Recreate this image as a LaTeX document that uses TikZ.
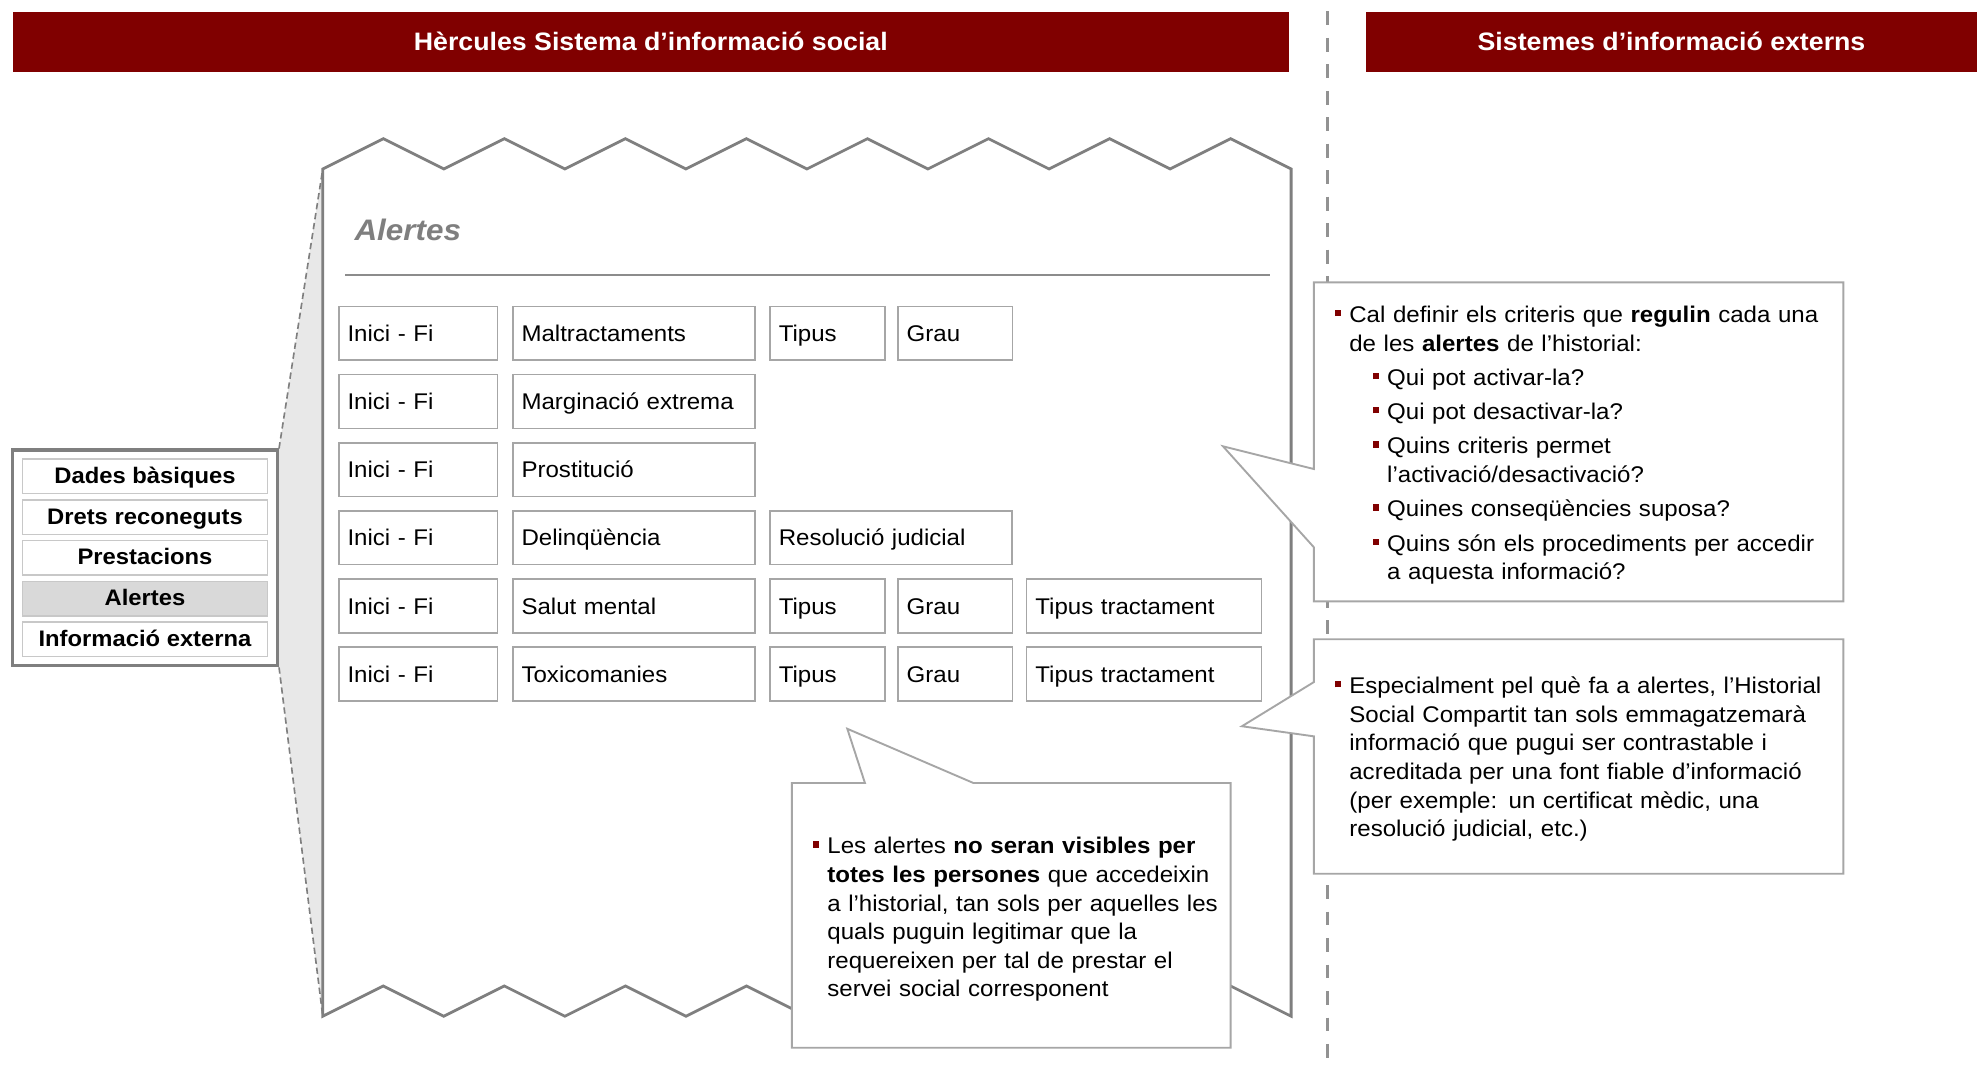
\documentclass[tikz,border=0pt]{standalone}
\usepackage{fontspec}
\setmainfont{Liberation Sans}[FakeStretch=1.06]

\definecolor{hred}{RGB}{128,0,0}
\definecolor{papergray}{RGB}{127,127,127}
\definecolor{cellgray}{RGB}{166,166,166}
\definecolor{itemgray}{RGB}{200,200,200}
\definecolor{selgray}{RGB}{217,217,217}
\definecolor{funnelgray}{RGB}{232,232,232}

\newcommand{\blt}{\llap{\textcolor{hred}{\rule[5pt]{5pt}{5pt}}\hspace{6.5pt}}}

\tikzset{
    hbar/.style={fill=hred, text=white, anchor=north west, minimum height=48pt,
        inner sep=0pt, font=\fontsize{20}{24}\selectfont\bfseries},
    sepline/.style={draw=papergray!85, line width=2.5pt, dash pattern=on 11pt off 10pt},
    paper/.style={draw=papergray, fill=white, line width=2.2pt},
    funnelfill/.style={fill=funnelgray},
    funnelline/.style={draw=papergray, line width=1.3pt, dash pattern=on 5pt off 3pt},
    menubox/.style={draw=papergray, fill=white, line width=2.6pt,
        minimum width=210pt, minimum height=171pt},
    menuitem/.style={draw=itemgray, fill=white, line width=1.2pt, inner sep=0pt,
        minimum width=194pt, minimum height=27.3pt, text height=14pt, text depth=3pt,
        font=\fontsize{17.8}{21}\selectfont\bfseries},
    titol/.style={text=papergray, inner sep=0pt,
        font=\fontsize{23.5}{28}\selectfont\bfseries\itshape},
    rulegray/.style={draw=papergray!90, line width=1.5pt},
    cell/.style={draw=cellgray, line width=1.3pt, anchor=north west, align=left,
        minimum height=42.6pt, inner xsep=7pt, inner ysep=0pt,
        text height=15pt, text depth=2pt,
        font=\fontsize{18}{22.7}\selectfont},
    datecell/.style={cell, text width=112pt},
    widecell/.style={cell, text width=178pt},
    smallcell/.style={cell, text width=77pt},
    treatcell/.style={cell, text width=172.5pt},
    callout/.style={draw=cellgray, fill=white, line width=1.5pt, line join=miter},
    nota/.style={anchor=north west, inner sep=0pt, align=left, text width=400pt,
        font=\fontsize{18}{22.7}\selectfont}
}

\begin{document}
\begin{tikzpicture}[x=1pt, y=-1pt]
    \useasboundingbox (0,0) rectangle (1568,853);

    \node[hbar, minimum width=1012pt] (hsis) at (10,9) {Hèrcules Sistema d’informació social};
    \node[hbar, minimum width=485pt] (hext) at (1083,9) {Sistemes d’informació externs};

    \coordinate (septop) at (1053,9);
    \coordinate (sepbot) at (1053,843);
    \draw[sepline] (septop) -- (sepbot);

    \node[menubox] (menu) at (115,442.5) {};
    \coordinate (ptl) at (256,134);
    \coordinate (pbl) at (256,806);
    \fill[funnelfill] (menu.north east) -- (ptl) -- (pbl) -- (menu.south east) -- cycle;
    \draw[funnelline] (menu.north east) -- (ptl);
    \draw[funnelline] (menu.south east) -- (pbl);

    \filldraw[paper] (ptl) \foreach \k in {1,...,8} { -- ++(48,-24) -- ++(48,24) }
        -- (1024,806) \foreach \k in {1,...,8} { -- ++(-48,-24) -- ++(-48,24) } -- cycle;

    \node[menuitem] (dades) at (115,377.8) {Dades bàsiques};
    \node[menuitem] (drets) at (115,410.2) {Drets reconeguts};
    \node[menuitem] (prest) at (115,442.4) {Prestacions};
    \node[menuitem, fill=selgray] (alert) at (115,474.8) {Alertes};
    \node[menuitem] (infext) at (115,507) {Informació externa};

    \node[titol, anchor=base west] (titol) at (281,191) {Alertes};
    \coordinate (rulea) at (274,218);
    \coordinate (ruleb) at (1007,218);
    \draw[rulegray] (rulea) -- (ruleb);

    \node[datecell] (i1) at (268,242.5) {Inici - Fi};
    \node[widecell] (a1) at (406,242.5) {Maltractaments};
    \node[smallcell] (t1) at (610,242.5) {Tipus};
    \node[smallcell] (g1) at (711.5,242.5) {Grau};

    \node[datecell] (i2) at (268,296.5) {Inici - Fi};
    \node[widecell] (a2) at (406,296.5) {Marginació extrema};

    \node[datecell] (i3) at (268,350.5) {Inici - Fi};
    \node[widecell] (a3) at (406,350.5) {Prostitució};

    \node[datecell] (i4) at (268,404.5) {Inici - Fi};
    \node[widecell] (a4) at (406,404.5) {Delinqüència};
    \node[widecell] (r4) at (610,404.5) {Resolució judicial};

    \node[datecell] (i5) at (268,458.6) {Inici - Fi};
    \node[widecell] (a5) at (406,458.6) {Salut mental};
    \node[smallcell] (t5) at (610,458.6) {Tipus};
    \node[smallcell] (g5) at (711.5,458.6) {Grau};
    \node[treatcell] (tt5) at (813.5,458.6) {Tipus tractament};

    \node[datecell] (i6) at (268,512.6) {Inici - Fi};
    \node[widecell] (a6) at (406,512.6) {Toxicomanies};
    \node[smallcell] (t6) at (610,512.6) {Tipus};
    \node[smallcell] (g6) at (711.5,512.6) {Grau};
    \node[treatcell] (tt6) at (813.5,512.6) {Tipus tractament};

    \filldraw[callout] (1042,224) -- (1462,224) -- (1462,477) -- (1042,477)
        -- (1042,434) -- (970,354) -- (1042,372) -- cycle;
    \node[nota] (nota1) at (1070,240.5) {\blt\rule{0pt}{15pt}Cal definir els criteris que \textbf{regulin} cada una\\
        de les \textbf{alertes} de l’historial:\\[4.5pt]
        \hspace*{30pt}\blt Qui pot activar-la?\\[4.5pt]
        \hspace*{30pt}\blt Qui pot desactivar-la?\\[4.5pt]
        \hspace*{30pt}\blt Quins criteris permet\\
        \hspace*{30pt}l’activació/desactivació?\\[4.5pt]
        \hspace*{30pt}\blt Quines conseqüències suposa?\\[4.5pt]
        \hspace*{30pt}\blt Quins són els procediments per accedir\\
        \hspace*{30pt}a aquesta informació?};

    \filldraw[callout] (1042,507) -- (1462,507) -- (1462,693) -- (1042,693)
        -- (1042,584) -- (985,576) -- (1042,541) -- cycle;
    \node[nota] (nota2) at (1070,535) {\blt\rule{0pt}{15pt}Especialment pel què fa a alertes, l’Historial\\
        Social Compartit tan sols emmagatzemarà\\
        informació que pugui ser contrastable i\\
        acreditada per una font fiable d’informació\\
        (per exemple: un certificat mèdic, una\\
        resolució judicial, etc.)};

    \filldraw[callout] (628,621) -- (686,621) -- (672,578) -- (772,621) -- (976,621)
        -- (976,831) -- (628,831) -- cycle;
    \node[nota] (nota3) at (656,662) {\blt\rule{0pt}{15pt}Les alertes \textbf{no seran visibles per}\\
        \textbf{totes les persones} que accedeixin\\
        a l’historial, tan sols per aquelles les\\
        quals puguin legitimar que la\\
        requereixen per tal de prestar el\\
        servei social corresponent};
\end{tikzpicture}
\end{document}
